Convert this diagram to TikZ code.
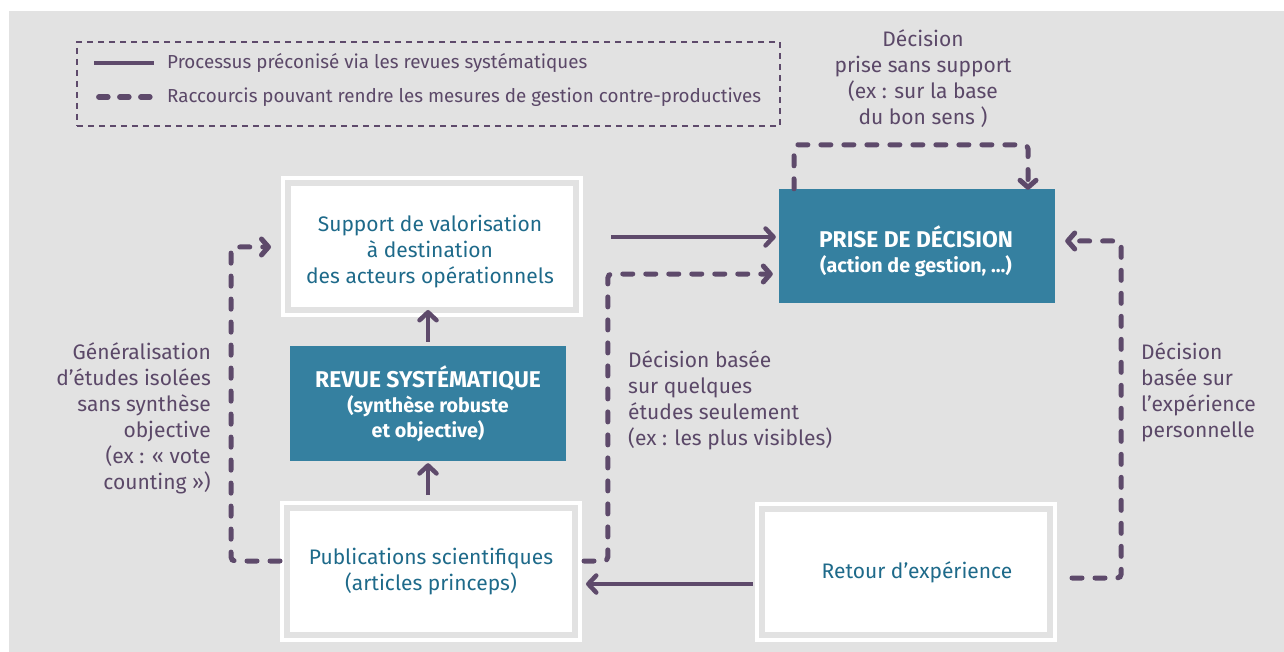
\documentclass[tikz,border=0pt]{standalone}
\usepackage{fontspec}
\setmainfont{Fira Sans}
\usetikzlibrary{arrows.meta,calc}
\definecolor{bg}{HTML}{E2E2E2}
\definecolor{plum}{HTML}{5E4A6B}
\definecolor{boxteal}{HTML}{3580A0}
\definecolor{tealtext}{HTML}{1E6A8A}
\definecolor{lbltext}{HTML}{5B4868}
\newcommand\boxfont{\fontsize{21}{26}\selectfont}
\newcommand\legfont{\fontsize{18.8}{22}\selectfont}
\newcommand\ttlfont{\fontsize{22.8}{25}\selectfont\bfseries}
\newcommand\subfont{\fontsize{19.7}{25}\selectfont\bfseries}
\tikzset{
  wbox/.style={draw=white, double=bg, line width=4pt, double distance=6pt, fill=white,
    text=tealtext, align=center, font=\boxfont, inner sep=0pt},
  btext/.style={text=tealtext, align=center, font=\boxfont, inner sep=0pt},
  tbox/.style={fill=boxteal, text=white, align=center, font=\subfont, inner sep=0pt},
  ttext/.style={text=white, align=center, font=\subfont, inner sep=0pt},
  lbl/.style={text=lbltext, font=\boxfont, inner sep=0pt},
  sol/.style={draw=plum, line width=4.5pt, -{Straight Barb[length=8pt,width=17pt,round]}},
  dsh/.style={draw=plum, line width=5pt, line cap=round, dash pattern=on 10pt off 13pt,
    rounded corners=4pt, -{Straight Barb[length=7pt,width=16pt,round]}},
  legbox/.style={draw=plum, line width=1.3pt, dash pattern=on 6pt off 5pt, inner sep=0pt},
}
\begin{document}
\begin{tikzpicture}[x=1pt, y=-1pt]
\fill[white] (0,0) rectangle (1284,652);
\fill[bg] (9,11) rectangle (1284,652);
\useasboundingbox (0,0) rectangle (1284,652);

% legend
\node[legbox, minimum width=703pt, minimum height=84pt] (leg) at (428.5,84) {};
\coordinate (l1a) at ($(leg.west)+(18,-21)$);
\coordinate (l1b) at ($(leg.west)+(78,-21)$);
\coordinate (l2a) at ($(leg.west)+(22.5,13)$);
\coordinate (l2b) at ($(leg.west)+(74.5,13)$);
\draw[draw=plum, line width=4.5pt] (l1a) -- (l1b);
\draw[draw=plum, line width=5.5pt, line cap=round, dash pattern=on 9pt off 12pt] (l2a) -- (l2b);
\node[text=lbltext, font=\legfont, anchor=west, inner sep=0pt] (t1) at (167,63) {Processus préconisé via les revues systématiques};
\node[text=lbltext, font=\legfont, anchor=west, inner sep=0pt] (t2) at (167,97) {Raccourcis pouvant rendre les mesures de gestion contre-productives};

% boxes
\node[wbox, minimum width=288pt, minimum height=127pt] (sup) at (432,246.5) {};
\node[btext] (supT) at ($(sup)+(-2,5)$) {Support de valorisation\\à destination\\des acteurs opérationnels};
\node[tbox, minimum width=276pt, minimum height=115pt] (rev) at (428,403.5) {{\ttlfont REVUE SYSTÉMATIQUE}\\(synthèse robuste\\et objective)};
\node[tbox, minimum width=276pt, minimum height=114pt] (pri) at (917,246) {};
\node[ttext] (priT) at ($(pri)+(-1,5)$) {{\ttlfont PRISE DE DÉCISION}\\(action de gestion, …)};
\node[wbox, minimum width=288pt, minimum height=127pt] (pub) at (431,571.5) {Publications scientifiques\\(articles princeps)};
\node[wbox, minimum width=288pt, minimum height=126pt] (ret) at (906,572) {\hspace*{22pt}Retour d’expérience};

% labels
\node[lbl, align=right, anchor=east] (lgen) at (211,418) {Généralisation\\d’études isolées\\sans synthèse\\objective\\(ex : « vote\\counting »)};
\node[lbl, align=left, anchor=west] (lmid) at (628,400) {Décision basée\\sur quelques\\études seulement\\(ex : les plus visibles)};
\node[lbl, align=left, anchor=west] (lright) at (1141,392.5) {Décision\\basée sur\\l’expérience\\personnelle};
\node[lbl, align=center] (ltop) at (923,79) {Décision\\prise sans support\\(ex : sur la base\\du bon sens )};

% solid connectors
\draw[sol] ($(sup.east)+(33,-9.5)$) -- ($(pri.west)+(-3,-9)$);
\draw[sol] ($(rev.north)+(0,-4)$) -- ($(sup.south)+(-4,-2)$);
\draw[sol] ($(pub.north)+(-3,-11)$) -- ($(rev.south)+(0,2)$);
\draw[sol] ($(ret.west)+(-7,12)$) -- ($(pub.east)+(9,12.5)$);

% dashed connectors
\draw[dsh] ($(pub.west)+(-5,-10.5)$) -| ($(sup.west)+(-55,0.5)$) -- ($(sup.west)+(-15,0.5)$);
\draw[dsh] ($(pub.east)+(7,-10.5)$) -| ($(pri.west)+(-171,28)$) -- ($(pri.west)+(-6,28)$);
\draw[dsh] ($(ret.east)+(20,6)$) -| ($(pri.east)+(66,-5)$) -- ($(pri.east)+(10,-5)$);
\draw[dsh] ($(pri.north)+(-123,0)$) |- ($(pri.north)+(111,-44)$) -- ($(pri.north)+(111,1)$);
\end{tikzpicture}
\end{document}
